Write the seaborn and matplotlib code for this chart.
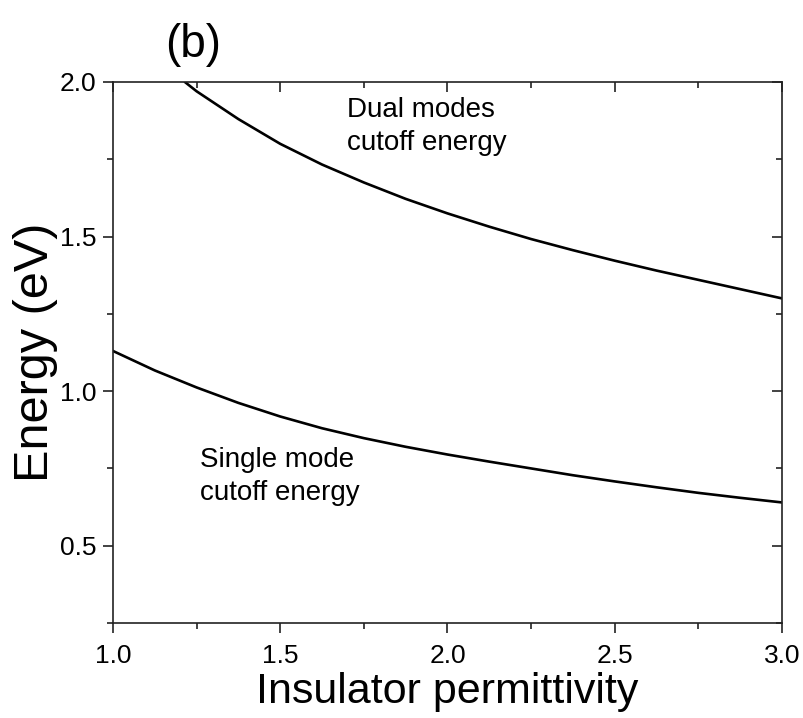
import matplotlib
matplotlib.use("Agg")
import matplotlib.pyplot as plt
import seaborn as sns
import pandas as pd
from matplotlib.ticker import MultipleLocator

# Data
eps_single = [1.0, 1.125, 1.25, 1.375, 1.5, 1.625, 1.75, 1.875, 2.0, 2.125,
              2.25, 2.375, 2.5, 2.625, 2.75, 2.875, 3.0]
energy_single = [1.13, 1.067, 1.012, 0.962, 0.918, 0.88, 0.848, 0.82, 0.795, 0.772,
                 0.75, 0.728, 0.708, 0.689, 0.671, 0.655, 0.64]

eps_dual = [1.215, 1.25, 1.375, 1.5, 1.625, 1.75, 1.875, 2.0, 2.125, 2.25,
            2.375, 2.5, 2.625, 2.75, 2.875, 3.0]
energy_dual = [2.0, 1.97, 1.88, 1.80, 1.733, 1.675, 1.622, 1.575, 1.532, 1.492,
               1.456, 1.422, 1.39, 1.36, 1.33, 1.30]

x_ticks = [1.0, 1.5, 2.0, 2.5, 3.0]
y_ticks = [0.5, 1.0, 1.5, 2.0]

sns.set_style("ticks")
plt.rcParams['font.family'] = ['Liberation Sans', 'DejaVu Sans']
plt.rcParams['text.color'] = 'black'
plt.rcParams['axes.labelcolor'] = 'black'

df_single = pd.DataFrame({"eps": eps_single, "E": energy_single})
df_dual = pd.DataFrame({"eps": eps_dual, "E": energy_dual})

fig = plt.figure(figsize=(8.04, 7.18), dpi=100)
ax = fig.add_axes([0.1405, 0.1323, 0.9726 - 0.1405, 0.8858 - 0.1323])

sns.lineplot(data=df_single, x="eps", y="E", ax=ax, color="black", lw=1.9)
sns.lineplot(data=df_dual, x="eps", y="E", ax=ax, color="black", lw=1.9)

ax.set_xlim(1.0, 3.0)
ax.set_ylim(0.25, 2.0)
ax.set_xticks(x_ticks)
ax.set_yticks(y_ticks)
ax.set_xticklabels([f"{v:.1f}" for v in x_ticks])
ax.set_yticklabels([f"{v:.1f}" for v in y_ticks])
ax.xaxis.set_minor_locator(MultipleLocator(0.25))
ax.yaxis.set_minor_locator(MultipleLocator(0.25))

for s in ax.spines.values():
    s.set_visible(True)
    s.set_linewidth(1.2)
    s.set_color("#222222")

ax.tick_params(axis="both", which="major", direction="out", length=7, width=1.2,
               labelsize=19, colors="#222222", labelcolor="black", pad=5)
ax.tick_params(axis="x", which="major", pad=8)
ax.tick_params(axis="both", which="minor", direction="out", length=4, width=1.2,
               colors="#222222")
ax.tick_params(top=True, right=True, which="both")
# top and right ticks inward
for tick in ax.xaxis.get_major_ticks() + ax.xaxis.get_minor_ticks():
    tick.tick2line.set_marker(3)
for tick in ax.yaxis.get_major_ticks() + ax.yaxis.get_minor_ticks():
    tick.tick2line.set_marker(0)

ax.set_xlabel("Insulator permittivity", fontsize=31, labelpad=3, color="black")
ax.set_ylabel("Energy (eV)", fontsize=35, labelpad=1, color="black")

ax.text(1.70, 1.95, "Dual modes\ncutoff energy", fontsize=20, va="top", ha="left",
        linespacing=1.35, color="black")
ax.text(1.26, 0.818, "Single mode\ncutoff energy", fontsize=20, va="top", ha="left",
        linespacing=1.35, color="black")

fig.text(165 / 804, 1 - 57 / 718, "(b)", fontsize=33, ha="left", va="baseline",
         color="black")

fig.savefig("out.png", dpi=100)
